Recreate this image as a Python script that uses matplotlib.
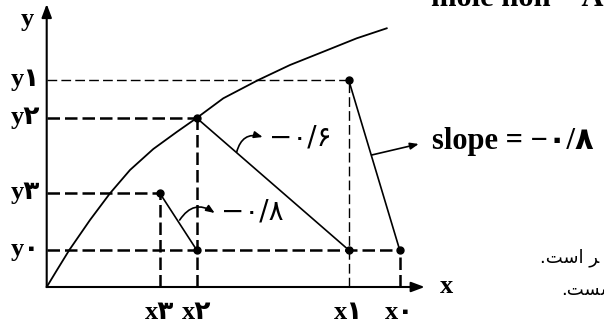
import matplotlib
matplotlib.use("Agg")
import matplotlib.pyplot as plt

plt.rcParams['lines.scale_dashes'] = False

# points on the axes (picture units, origin at the corner of the axes)
x_vals = {'x3': 113, 'x2': 150, 'x1': 302, 'x0': 353}
y_vals = {'y0': 37, 'y3': 94, 'y2': 169, 'y1': 207}

# curve
curve_x = [0, 10, 22.6, 43.3, 63.3, 83.3, 106.6, 130, 150, 176.6, 211.6,
           243.3, 276.6, 310, 340]
curve_y = [0, 16.5, 37, 67, 93.7, 117, 138, 155, 169, 188.7, 207,
           222, 235.3, 248.7, 258.7]

# segments between the marked points
seg_x3 = [113, 150]
seg_y3 = [94, 37]
seg_x2 = [150, 302]
seg_y2 = [169, 37]
seg_x1 = [302, 353]
seg_y1 = [207, 37]

dot_x = [150, 302, 113, 150, 302, 353]
dot_y = [169, 37, 94, 37, 207, 37]

x_labels = ['x\u06f3', 'x\u06f2', 'x\u06f1', 'x\u06f0']
y_labels = ['y\u06f0', 'y\u06f3', 'y\u06f2', 'y\u06f1']

serif = ['Liberation Serif', 'DejaVu Sans']
sans = ['DejaVu Sans']

fig = plt.figure(figsize=(6.04, 3.29), dpi=100)
ax = fig.add_axes([0, 0, 1, 1])
ax.set_xlim(-46.7, 604 - 46.7)
ax.set_ylim(287 - 329, 287)
ax.axis('off')

thick = dict(color='black', lw=1.8, dashes=(9, 3.6))
thin = dict(color='black', lw=1.0, dashes=(7, 3))

# guide lines
ax.plot([0, x_vals['x1']], [y_vals['y1']] * 2, **thin)
ax.plot([x_vals['x1']] * 2, [0, y_vals['y1']], **thin)
ax.plot([0, x_vals['x2']], [y_vals['y2']] * 2, **thick)
ax.plot([0, x_vals['x3']], [y_vals['y3']] * 2, **thick)
ax.plot([0, x_vals['x0']], [y_vals['y0']] * 2, **thick)
ax.plot([x_vals['x3']] * 2, [0, y_vals['y3']], **thick)
ax.plot([x_vals['x2']] * 2, [0, y_vals['y2']], **thick)
ax.plot([x_vals['x0']] * 2, [0, y_vals['y0']], **thick)

# curve and segments
ax.plot(curve_x, curve_y, color='black', lw=1.3, solid_joinstyle='round')
ax.plot(seg_x3, seg_y3, color='black', lw=1.2)
ax.plot(seg_x2, seg_y2, color='black', lw=1.2)
ax.plot(seg_x1, seg_y1, color='black', lw=1.2)
ax.plot(dot_x, dot_y, 'o', color='black', ms=5)

# axes with arrows
ax.annotate('', xy=(0, 283), xytext=(0, 0),
            arrowprops=dict(arrowstyle='-|>,head_length=0.8,head_width=0.3',
                            color='black', lw=1.5, shrinkA=0, shrinkB=0))
ax.annotate('', xy=(378, 0), xytext=(0, 0),
            arrowprops=dict(arrowstyle='-|>,head_length=0.8,head_width=0.3',
                            color='black', lw=1.5, shrinkA=0, shrinkB=0))

# axis labels
ax.text(-19, 261, 'y', family=serif, weight='bold', fontsize=19,
        ha='center', va='baseline')
ax.text(400, -6, 'x', family=serif, weight='bold', fontsize=19,
        ha='center', va='baseline')
for lab, key in zip(y_labels, ['y0', 'y3', 'y2', 'y1']):
    ax.text(-7, y_vals[key] - 6, lab, family=serif, weight='bold', fontsize=19,
            ha='right', va='baseline')
for lab, key in zip(x_labels, ['x3', 'x2', 'x1', 'x0']):
    ax.text(x_vals[key], -32, lab, family=serif, weight='bold', fontsize=19,
            ha='center', va='baseline')

# slope notes
arc = dict(arrowstyle='-|>,head_length=0.5,head_width=0.2', color='black',
           lw=1.2, shrinkA=0, shrinkB=0, connectionstyle='arc3,rad=-0.5')
ax.annotate('', xy=(216, 150), xytext=(190, 135), arrowprops=arc)
ax.text(222, 149, '\u2212\u06f0/\u06f6', family=sans, fontsize=20,
        ha='left', va='center')
ax.annotate('', xy=(168, 74), xytext=(133, 67), arrowprops=arc)
ax.text(174, 75, '\u2212\u06f0/\u06f8', family=sans, fontsize=20,
        ha='left', va='center')
ax.annotate('', xy=(372, 143), xytext=(325, 132),
            arrowprops=dict(arrowstyle='-|>,head_length=0.5,head_width=0.2',
                            color='black', lw=1.2, shrinkA=0, shrinkB=0))
ax.text(385, 145, 'slope = \u2212\u06f0/\u06f8', family=serif, weight='bold',
        fontsize=22, ha='left', va='center')

# cut-off text around the figure
ax.text(384, 281, 'mole non = A', family=serif, weight='bold', fontsize=22,
        ha='left', va='baseline')
ax.text(493, 25, '.\ufe96\ufeb3\ufe8d \ufeae', family=sans, fontsize=13,
        ha='left', va='baseline')
ax.text(514, -8, '.\ufe96\ufeb4\ufeb4', family=sans, fontsize=13,
        ha='left', va='baseline')

fig.savefig('out.png', dpi=100)
